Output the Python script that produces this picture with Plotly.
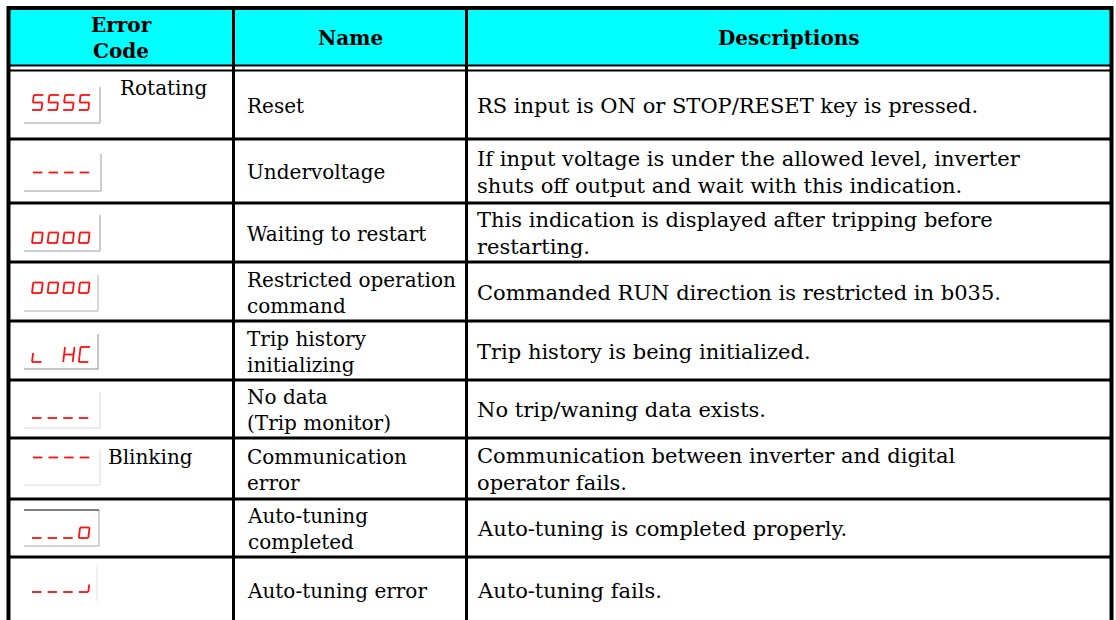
import plotly.graph_objects as go

# ---------------- data ----------------
header_labels = ["Error<br>Code", "Name", "Descriptions"]
error_codes = ["5555", "----", "oooo", "oooo", "L HC", "____", "----", "___o", "___J"]
code_notes = ["Rotating", "", "", "", "", "", "Blinking", "", ""]
names = [
    "Reset",
    "Undervoltage",
    "Waiting to restart",
    "Restricted operation<br>command",
    "Trip history<br>initializing",
    "No data<br>(Trip monitor)",
    "Communication<br>error",
    "Auto-tuning<br>completed",
    "Auto-tuning error",
]
descriptions = [
    "RS input is ON or STOP/RESET key is pressed.",
    "If input voltage is under the allowed level, inverter<br>shuts off output and wait with this indication.",
    "This indication is displayed after tripping before<br>restarting.",
    "Commanded RUN direction is restricted in b035.",
    "Trip history is being initialized.",
    "No trip/waning data exists.",
    "Communication between inverter and digital<br>operator fails.",
    "Auto-tuning is completed properly.",
    "Auto-tuning fails.",
]

# ---------------- layout constants ----------------
W, H = 1116, 620
LEFT, RIGHT, TOP = 8.5, 1111.5, 8
COL_X = [LEFT, 233.5, 466.5, RIGHT]
HEAD_LINE1, HEAD_LINE2 = 65.5, 70.5
ROW_BOTTOMS = [139, 203, 262, 321, 380, 438, 499, 557, 622]
GLYPH_BASE = [110, 180, 243, 293, 362, 418, 465, 538, 592]
BOX_RIGHT = [100, 101, 100, 98, 98, 100, 100, 99, 97]
BOX_TOP = [87, 154, 215, 275, 334, 392, 449, 510, 565]
BOX_BOTTOM = [123, 191, 251, 311, 369, 428, 485, 546, 601]
BOX_COLOR = ["#9a9a9a", "#9a9a9a", "#9a9a9a", "#b0b0b0", "#8a8a8a", "#d4d4d4", "#dcdcdc", "#a8a8a8", "#e0e0e0"]
BOX_HAS_BOTTOM = [True, True, True, True, True, True, True, True, False]
BOX_TOP_BLACK = [False] * 7 + [True, False]
NOTE_POS = [(119, 88), None, None, None, None, None, (107, 457), None, None]

FONT = "DejaVu Serif"
NAME_FS = 20
DESC_FS = 21
HFS = 20
RED = "#ff1010"

GLYPH_W, GLYPH_H, PITCH, SLANT, GX0 = 9.5, 15, 15.6, 0.12, 32

SEGS = {
    "5": [((0, 1), (1, 1)), ((0, 1), (0, .5)), ((0, .5), (1, .5)), ((1, .5), (1, 0)), ((0, 0), (1, 0))],
    "-": [((0, .5), (1, .5))],
    "_": [((0, 0), (1, 0))],
    "o": [((0, .7), (1, .7)), ((1, .7), (1, 0)), ((1, 0), (0, 0)), ((0, 0), (0, .7))],
    "L": [((0, .6), (0, 0)), ((0, 0), (1, 0))],
    "H": [((0, 1), (0, 0)), ((1, 1), (1, 0)), ((0, .5), (1, .5))],
    "C": [((1, 1), (0, 1)), ((0, 1), (0, 0)), ((0, 0), (1, 0))],
    "J": [((1, .5), (1, 0)), ((1, 0), (0, 0))],
    " ": [],
}

shapes = []
annotations = []


def line(x0, y0, x1, y1, color="black", width=2):
    shapes.append(dict(type="line", xref="x", yref="y", x0=x0, y0=y0, x1=x1, y1=y1,
                       line=dict(color=color, width=width), layer="above"))


def text_cell(x, yc, text, size, anchor="left", bold=False):
    annotations.append(dict(x=x, y=yc, xref="x", yref="y",
                            text=("<b>%s</b>" % text) if bold else text, showarrow=False,
                            font=dict(family=FONT, size=size, color="black"),
                            xanchor=anchor, yanchor="middle", align=anchor, borderpad=0))


# header fill
shapes.append(dict(type="rect", xref="x", yref="y", x0=LEFT, x1=RIGHT, y0=TOP, y1=HEAD_LINE1,
                   fillcolor="#00ffff", line=dict(width=0), layer="below"))

# header labels
for i, lab in enumerate(header_labels):
    text_cell((COL_X[i] + COL_X[i + 1]) / 2, (TOP + HEAD_LINE1) / 2 + 1, lab, HFS,
              anchor="center", bold=True)

# body rows
row_tops = [HEAD_LINE2] + ROW_BOTTOMS[:-1]
for r in range(len(names)):
    yc = (row_tops[r] + ROW_BOTTOMS[r]) / 2 + 1
    text_cell(246, yc, names[r], NAME_FS)
    text_cell(476, yc, descriptions[r], DESC_FS)
    if code_notes[r]:
        nx, ny = NOTE_POS[r]
        text_cell(nx, ny, code_notes[r], NAME_FS)
    # display box
    line(BOX_RIGHT[r], BOX_TOP[r], BOX_RIGHT[r], BOX_BOTTOM[r], BOX_COLOR[r], 1)
    if BOX_HAS_BOTTOM[r]:
        line(24, BOX_BOTTOM[r], BOX_RIGHT[r], BOX_BOTTOM[r], BOX_COLOR[r], 1)
    if BOX_TOP_BLACK[r]:
        line(24, BOX_TOP[r], BOX_RIGHT[r], BOX_TOP[r], "black", 1)
    # 7-segment glyphs
    base = GLYPH_BASE[r]
    for k, ch in enumerate(error_codes[r]):
        gx = GX0 + k * PITCH
        for (ux0, uy0), (ux1, uy1) in SEGS[ch]:
            x0 = gx + ux0 * GLYPH_W + SLANT * uy0 * GLYPH_H
            x1 = gx + ux1 * GLYPH_W + SLANT * uy1 * GLYPH_H
            y0 = base - uy0 * GLYPH_H
            y1 = base - uy1 * GLYPH_H
            line(x0, y0, x1, y1, RED, 1.8)

# grid lines
for yb in ROW_BOTTOMS[:-1]:
    line(LEFT, yb, RIGHT, yb, "black", 3)
line(LEFT, HEAD_LINE1, RIGHT, HEAD_LINE1, "black", 2)
line(LEFT, HEAD_LINE2, RIGHT, HEAD_LINE2, "black", 2)
for cx in COL_X[1:-1]:
    line(cx, TOP, cx, H + 2, "black", 3)
# outer border
line(LEFT, TOP, RIGHT, TOP, "black", 4)
line(LEFT, TOP - 2, LEFT, H + 2, "black", 4)
line(RIGHT, TOP - 2, RIGHT, H + 2, "black", 4)

fig = go.Figure()
fig.update_layout(
    width=W, height=H,
    margin=dict(l=0, r=0, t=0, b=0),
    paper_bgcolor="white", plot_bgcolor="white",
    xaxis=dict(range=[0, W], visible=False, fixedrange=True),
    yaxis=dict(range=[H, 0], visible=False, fixedrange=True),
    shapes=shapes, annotations=annotations, showlegend=False,
)
fig.write_html("out.html", config={"displayModeBar": False, "staticPlot": True},
               post_script="document.body.style.margin='0';document.body.style.overflow='hidden';")
